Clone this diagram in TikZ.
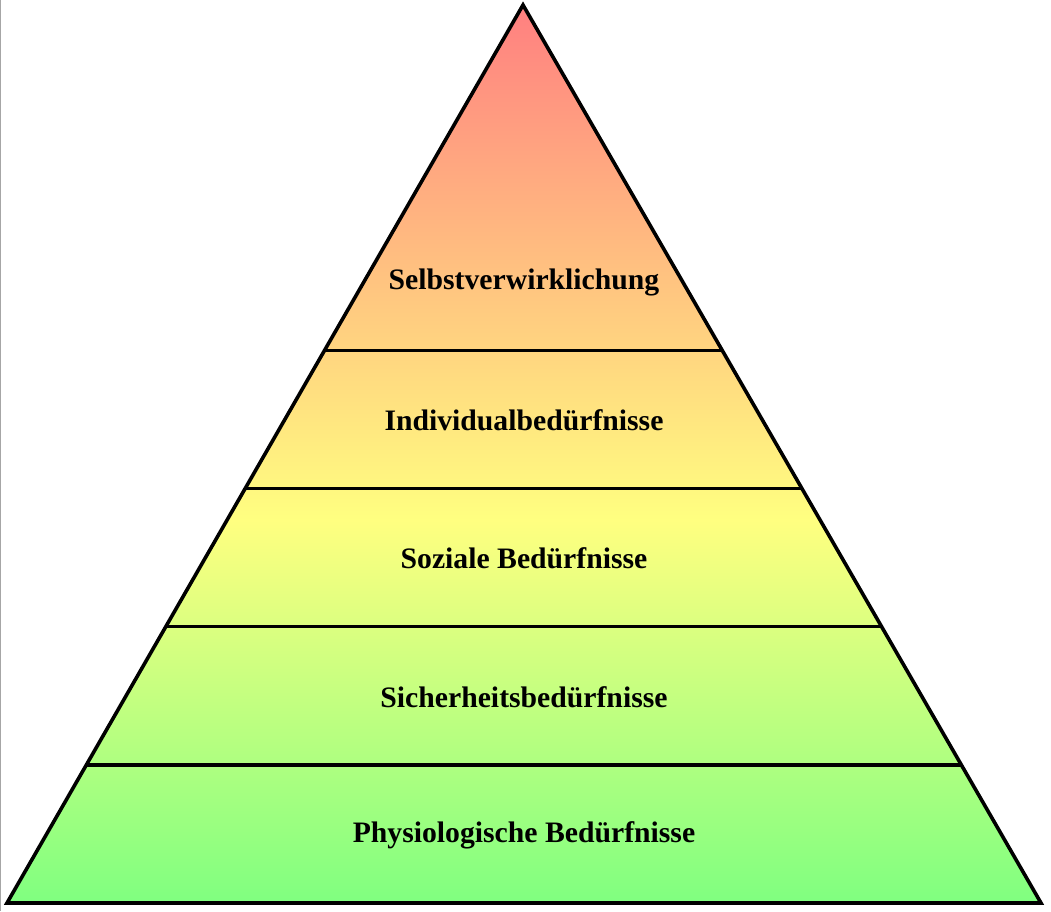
\documentclass[tikz,border=0pt]{standalone}
\usepackage{fontspec}
\setmainfont{Liberation Serif}
\usetikzlibrary{calc}

\pgfdeclareverticalshading{needs}{100bp}{color(0bp)=(green!50); color(25bp)=(green!50); color(46.3bp)=(yellow!50); color(75bp)=(red!50); color(100bp)=(red!50)}

\begin{document}
\begin{tikzpicture}[x=1pt, y=1pt, line width=3.6pt, line join=miter,
    level/.style = {font=\fontsize{29.7}{34}\selectfont\bfseries}]
    \useasboundingbox (0,0) rectangle (1051,911);
    \draw[gray!70, line width=1pt] (0.5,0) -- (0.5,911);
    \coordinate (top) at (523,906);
    \coordinate (bl) at (7,8);
    \coordinate (br) at (1041,8);
    \shade[shading=needs] (bl) -- (br) -- (top) -- cycle;
    % layer borders
    \coordinate (l1) at ($(bl)!0.15385!(top)$);
    \coordinate (r1) at ($(br)!0.15385!(top)$);
    \coordinate (l2) at ($(bl)!0.30769!(top)$);
    \coordinate (r2) at ($(br)!0.30769!(top)$);
    \coordinate (l3) at ($(bl)!0.46154!(top)$);
    \coordinate (r3) at ($(br)!0.46154!(top)$);
    \coordinate (l4) at ($(bl)!0.61538!(top)$);
    \coordinate (r4) at ($(br)!0.61538!(top)$);
    \draw (l1) -- (r1);
    \draw (l2) -- (r2);
    \draw (l3) -- (r3);
    \draw (l4) -- (r4);
    \draw (bl) -- (br) -- (top) -- cycle;
    % labels
    \node[level] (phys) at (524,75.5) {Physiologische Bedürfnisse};
    \node[level] (sich) at (524,214) {Sicherheitsbedürfnisse};
    \node[level] (soz) at (524,352.3) {Soziale Bedürfnisse};
    \node[level] (ind) at (524,490.5) {Individualbedürfnisse};
    \node[level] (selbst) at (524,629) {Selbstverwirklichung};
\end{tikzpicture}
\end{document}
